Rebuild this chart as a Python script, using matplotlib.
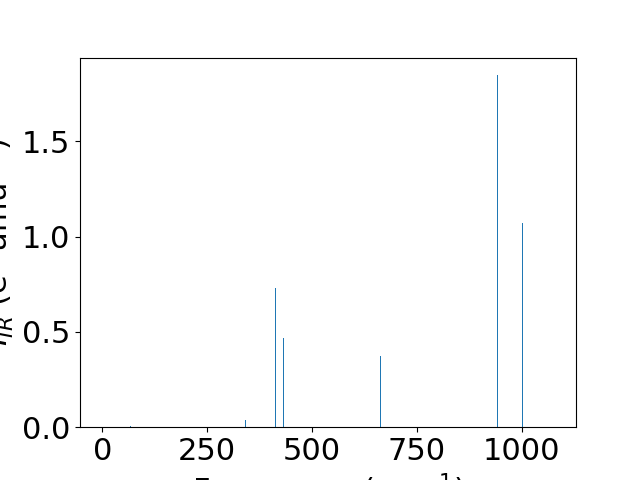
"""
IR spectrum stick plot
"""
import matplotlib
matplotlib.use('Agg')
import matplotlib.pyplot as plt

# frequencies (cm^-1) and IR intensities
frequencies = [2, 67, 341, 412, 431, 623, 663, 941, 1001, 1074]
intensities = [0.0, 0.005, 0.04, 0.729, 0.467, 0.003, 0.372, 1.846, 1.073, 0.0]

fig, ax = plt.subplots(figsize=(6.4, 4.8), dpi=100)

ax.bar(frequencies, intensities, width=2.4, color='C0')

ax.set_xlabel('Frequency (cm$^{-1}$)', fontsize=22)
ax.set_ylabel('$I_{IR}$ (e$^2$ amu$^{-1}$)', fontsize=22)
ax.tick_params(labelsize=22)

fig.savefig('out.png', dpi=100)
